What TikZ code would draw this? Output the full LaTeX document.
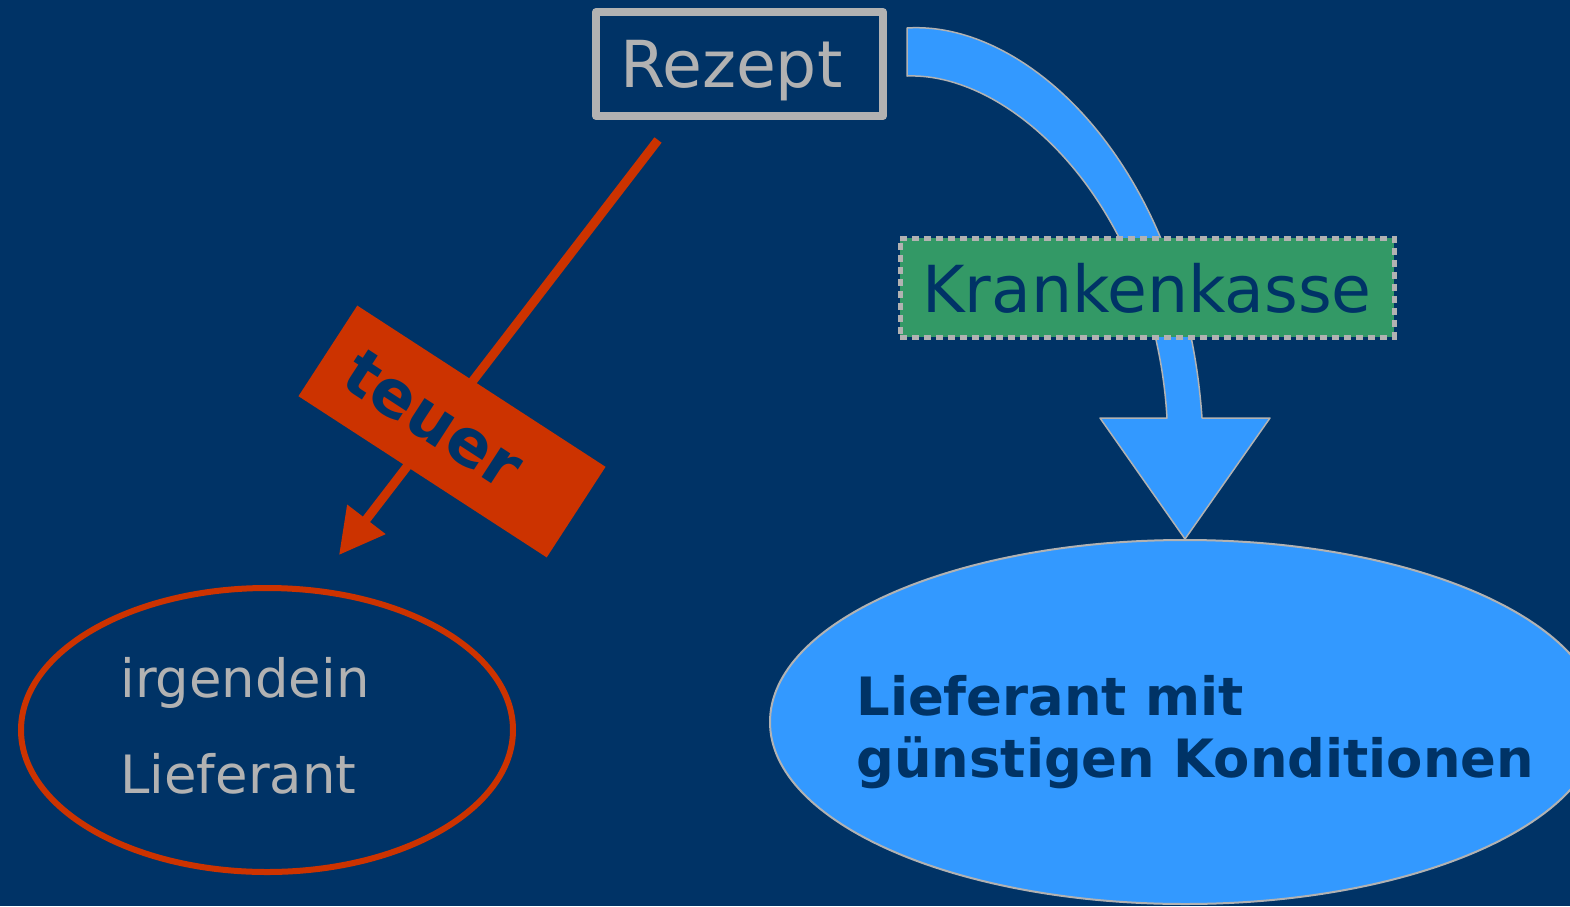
\documentclass[tikz,border=0pt]{standalone}
\usepackage{fontspec}
\setmainfont{DejaVu Sans}
\usetikzlibrary{arrows.meta,shapes.geometric}
\definecolor{bg}{HTML}{003366}
\definecolor{lblue}{HTML}{3399FF}
\definecolor{rred}{HTML}{CC3300}
\definecolor{ggreen}{HTML}{339966}
\definecolor{ggray}{HTML}{B2B2B2}
\newcommand\myBig{\fontsize{32.4pt}{38pt}\selectfont}
\newcommand\mySmall{\fontsize{26.4pt}{32pt}\selectfont}
\tikzset{
  rzbox/.style={draw=ggray, line width=4pt, line join=round, text=ggray, font=\myBig,
    minimum height=52pt, inner xsep=12pt, inner ysep=0pt, text width=119.5pt, align=left, text depth=0pt},
  kkbox/.style={fill=ggreen, draw=ggray, line width=2.5pt, dash pattern=on 3.5pt off 2.5pt,
    text=bg, font=\myBig, minimum width=247pt, minimum height=49.5pt, text depth=0pt, inner sep=0pt},
  teuerbox/.style={fill=rred, rotate=-33, minimum width=148pt, minimum height=54pt,
    inner xsep=13.75pt, inner ysep=0pt, text width=120.5pt, align=left, text=bg, font=\myBig\bfseries},
  redell/.style={ellipse, draw=rred, line width=3pt, minimum width=246pt, minimum height=142pt, inner sep=0pt},
  blueell/.style={ellipse, fill=lblue, draw=ggray, line width=1pt, minimum width=415pt, minimum height=182pt, inner sep=0pt},
  graytext/.style={text=ggray, font=\mySmall, anchor=base west, inner sep=0pt},
  boldtext/.style={text=bg, font=\mySmall\bfseries, anchor=base west, inner sep=0pt},
  redarrow/.style={rred, line width=4.5pt, -{Triangle[length=22.5pt,width=23pt]}},
  bluearrow/.style={fill=lblue, draw=ggray, line width=0.75pt, line join=round}
}
\begin{document}
\begin{tikzpicture}[x=0.5pt,y=-0.5pt]
\fill[bg] (0,0) rectangle (1570,906);
\useasboundingbox (0,0) rectangle (1570,906);
\clip (0,0) rectangle (1570,906);

% right supplier
\node[blueell] (lief2) at (1185,722) {};
\node[boldtext] (l2a) at (856,715) {Lieferant mit};
\node[boldtext] (l2b) at (856,777) {günstigen Konditionen};

% curved blue arrow
\coordinate (bs1) at (907,28);
\coordinate (bs2) at (907,76);
\coordinate (btip) at (lief2.north);
\path[bluearrow] (bs1) .. controls (1030,20) and (1185,170) .. (1202,418)
  -- (1270,418) -- (btip) -- (1100,418) -- (1167,418)
  .. controls (1155,210) and (1015,72) .. (bs2) -- cycle;

% Krankenkasse
\node[kkbox] (kk) at (1147,287.5) {Krankenkasse};

% Rezept
\node[rzbox] (rz) at (739.5,64) {Rezept};

% left supplier
\node[redell] (lief1) at (267,730) {};
\node[graytext] (l1a) at (120,697) {irgendein};
\node[graytext] (l1b) at (120,793) {Lieferant};

% red arrow
\coordinate (rs) at (658,140);
\coordinate (re) at (339,555);
\draw[redarrow] (rs) -- (re);

% teuer
\node[teuerbox] (teuer) at (452,431.5) {teuer};
\end{tikzpicture}
\end{document}
